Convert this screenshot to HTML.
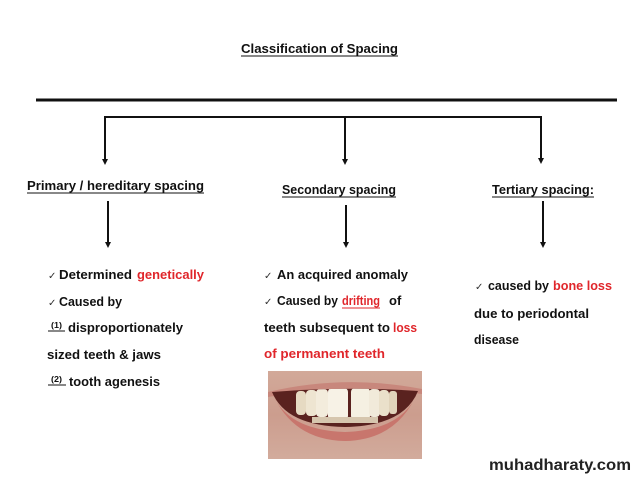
<!DOCTYPE html>
<html><head><meta charset="utf-8"><style>
html,body{margin:0;padding:0;background:#fff;}
svg{display:block;}
text{font-family:"Liberation Sans","DejaVu Sans",sans-serif;font-weight:bold;font-size:13px;fill:#111;}
.r{fill:#e0262b;}
.ck{font-family:"DejaVu Sans",sans-serif;font-weight:normal;font-size:10px;fill:#333;}
.sm{font-size:8px;}
</style></head><body>
<svg width="638" height="479" viewBox="0 0 638 479" xmlns="http://www.w3.org/2000/svg">
<rect width="638" height="479" fill="#fff"/>
<!-- title -->
<text x="241" y="53" textLength="157" lengthAdjust="spacingAndGlyphs">Classification of Spacing</text>
<line x1="241" y1="56" x2="398" y2="56" stroke="#111" stroke-width="1"/>
<!-- thick line -->
<line x1="36" y1="100" x2="617" y2="100" stroke="#111" stroke-width="3"/>
<!-- bracket -->
<polyline points="105,161 105,117 541,117 541,161" fill="none" stroke="#111" stroke-width="2"/>
<line x1="345" y1="117" x2="345" y2="161" stroke="#111" stroke-width="2"/>
<polygon points="102,159 108,159 105,165" fill="#111"/>
<polygon points="342,159 348,159 345,165" fill="#111"/>
<polygon points="538,158 544,158 541,164" fill="#111"/>
<!-- headers -->
<text x="27" y="190" textLength="177" lengthAdjust="spacingAndGlyphs">Primary / hereditary spacing</text>
<line x1="27" y1="193" x2="204" y2="193" stroke="#111" stroke-width="1"/>
<text x="282" y="194" textLength="114" lengthAdjust="spacingAndGlyphs">Secondary spacing</text>
<line x1="282" y1="197" x2="396" y2="197" stroke="#111" stroke-width="1"/>
<text x="492" y="194" textLength="102" lengthAdjust="spacingAndGlyphs">Tertiary spacing:</text>
<line x1="492" y1="197" x2="594" y2="197" stroke="#111" stroke-width="1"/>
<!-- lower arrows -->
<line x1="108" y1="201" x2="108" y2="244" stroke="#111" stroke-width="2"/>
<polygon points="105,242 111,242 108,248" fill="#111"/>
<line x1="346" y1="205" x2="346" y2="244" stroke="#111" stroke-width="2"/>
<polygon points="343,242 349,242 346,248" fill="#111"/>
<line x1="543" y1="201" x2="543" y2="244" stroke="#111" stroke-width="2"/>
<polygon points="540,242 546,242 543,248" fill="#111"/>
<!-- left column -->
<text class="ck" x="48" y="279">✓</text>
<text x="59" y="279" textLength="73" lengthAdjust="spacingAndGlyphs">Determined</text>
<text class="r" x="137" y="279" textLength="67" lengthAdjust="spacingAndGlyphs">genetically</text>
<text class="ck" x="48" y="306">✓</text>
<text x="59" y="306" textLength="63" lengthAdjust="spacingAndGlyphs">Caused by</text>
<text class="sm" x="51" y="328" textLength="11" lengthAdjust="spacingAndGlyphs">(1)</text>
<line x1="48" y1="331" x2="65" y2="331" stroke="#111" stroke-width="1"/>
<text x="68" y="332" textLength="115" lengthAdjust="spacingAndGlyphs">disproportionately</text>
<text x="47" y="359" textLength="114" lengthAdjust="spacingAndGlyphs">sized teeth &amp; jaws</text>
<text class="sm" x="51" y="382" textLength="11" lengthAdjust="spacingAndGlyphs">(2)</text>
<line x1="48" y1="385" x2="66" y2="385" stroke="#111" stroke-width="1"/>
<text x="69" y="386" textLength="91" lengthAdjust="spacingAndGlyphs">tooth agenesis</text>
<!-- middle column -->
<text class="ck" x="264" y="279">✓</text>
<text x="277" y="279" textLength="131" lengthAdjust="spacingAndGlyphs">An acquired anomaly</text>
<text class="ck" x="264" y="305">✓</text>
<text x="277" y="305" textLength="61" lengthAdjust="spacingAndGlyphs">Caused by</text>
<text class="r" x="342" y="305" textLength="38" lengthAdjust="spacingAndGlyphs">drifting</text>
<line x1="342" y1="308" x2="380" y2="308" stroke="#e0262b" stroke-width="1"/>
<text x="389" y="305">of</text>
<text x="264" y="332" textLength="126" lengthAdjust="spacingAndGlyphs">teeth subsequent to</text>
<text class="r" x="393" y="332" textLength="24" lengthAdjust="spacingAndGlyphs">loss</text>
<text class="r" x="264" y="358" textLength="121" lengthAdjust="spacingAndGlyphs">of permanent teeth</text>
<!-- right column -->
<text class="ck" x="475" y="290">✓</text>
<text x="488" y="290" textLength="61" lengthAdjust="spacingAndGlyphs">caused by</text>
<text class="r" x="553" y="290" textLength="59" lengthAdjust="spacingAndGlyphs">bone loss</text>
<text x="474" y="318" textLength="115" lengthAdjust="spacingAndGlyphs">due to periodontal</text>
<text x="474" y="344" textLength="45" lengthAdjust="spacingAndGlyphs">disease</text>
<!-- photo -->
<defs>
<clipPath id="ph"><rect x="268" y="371" width="154" height="88"/></clipPath>
<clipPath id="mouth"><path d="M272,392 Q345,386 418,391 Q404,426 345,427 Q286,426 272,392 Z"/></clipPath>
<linearGradient id="skin" x1="0" y1="0" x2="0" y2="1">
<stop offset="0" stop-color="#d2a999"/><stop offset="0.5" stop-color="#cc9d8e"/><stop offset="1" stop-color="#d2ab9c"/>
</linearGradient>
</defs>
<g clip-path="url(#ph)">
<rect x="268" y="371" width="154" height="88" fill="url(#skin)"/>
<path d="M268,392 Q345,374 422,389 L422,394 Q345,384 268,397 Z" fill="#c8877c"/>
<path d="M272,392 Q292,440 345,441 Q398,440 418,391 Q404,430 345,432 Q286,430 272,392 Z" fill="#c8766d"/>
<path d="M272,392 Q345,386 418,391 Q404,426 345,427 Q286,426 272,392 Z" fill="#5a221f"/>
<g clip-path="url(#mouth)">
<rect x="296" y="391" width="10" height="24" rx="4" fill="#e6dac2"/>
<rect x="306" y="390" width="11" height="26" rx="4" fill="#eee5d1"/>
<rect x="316" y="389" width="12" height="28" rx="4" fill="#f3ecdc"/>
<rect x="328" y="388" width="20" height="32" rx="4" fill="#f7f2e6"/>
<rect x="351" y="388" width="19" height="32" rx="4" fill="#f5f0e2"/>
<rect x="369" y="389" width="11" height="28" rx="4" fill="#f1eada"/>
<rect x="379" y="390" width="10" height="26" rx="4" fill="#eae0ca"/>
<rect x="389" y="391" width="8" height="23" rx="3" fill="#e0d3ba"/>
<rect x="312" y="417" width="66" height="6" fill="#d6c6ae"/>
</g>
</g>
<!-- watermark -->
<text x="489" y="470" textLength="142" lengthAdjust="spacingAndGlyphs" style="font-size:16px;fill:#222;">muhadharaty.com</text>
</svg>
</body></html>
